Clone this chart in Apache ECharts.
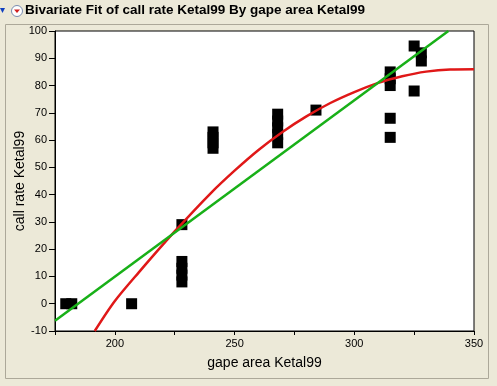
<!DOCTYPE html>
<html><head><meta charset="utf-8">
<script src="https://cdn.jsdelivr.net/npm/echarts@6/dist/echarts.min.js"></script>
<style>html,body{margin:0;padding:0;background:#ECE9D8;}#c{width:497px;height:386px;}</style>
</head><body><div id="c"></div>
<script>
// Scatter points (gape area, call rate)
const pointsX = [179.5, 182, 207, 228, 228, 228, 228, 228, 241, 241, 241, 241, 268, 268, 268, 268, 268, 284, 315, 315, 315, 315, 315, 325, 325, 328, 328];
const pointsY = [0, 0, 0, 29, 8, 10.5, 13, 15.5, 57, 59, 61, 63, 59, 62, 64.5, 67, 69.5, 71, 61, 68, 80, 82.5, 85, 94.5, 78, 92, 89];
// Linear fit (green) endpoints
const linX = [175, 339.3];
const linY = [-6.2, 100];
// Polynomial fit (red)
const polyX = [191.6, 200, 210, 225, 240, 250, 260, 270, 280, 290, 300, 310, 320, 330, 340, 350];
const polyY = [-10, 1, 11.5, 26.5, 40.5, 48.8, 56.4, 63, 68.7, 73.6, 77.6, 81, 83.4, 85.1, 85.9, 86];
const xTicks = [200, 250, 300, 350];
const yTicks = [-10, 0, 10, 20, 30, 40, 50, 60, 70, 80, 90, 100];

const zip = (a, b) => a.map((v, i) => [v, b[i]]);
const chart = echarts.init(document.getElementById('c'), null, {renderer: 'canvas'});
const font = 'Liberation Sans, Arial, sans-serif';
chart.setOption({
  backgroundColor: '#ECE9D8',
  animation: false,
  grid: {left: 55, right: 23, top: 31, bottom: 55, show: true, backgroundColor: '#fff', borderColor: '#000', borderWidth: 1},
  graphic: [
    {type: 'rect', shape: {x: 5.5, y: 24.5, width: 483, height: 354}, style: {fill: 'none', stroke: '#ACA899', lineWidth: 1}, z: -1},
    {type: 'polygon', shape: {points: [[0, 8], [5, 8], [2.5, 13]]}, style: {fill: '#1040C0'}},
    {type: 'circle', shape: {cx: 17, cy: 11, r: 5.5}, style: {fill: '#fff', stroke: '#7A8CB0', lineWidth: 1}},
    {type: 'polygon', shape: {points: [[14, 9.5], [20, 9.5], [17, 13]]}, style: {fill: '#D02020'}},
    {type: 'text', left: 25, top: 3, style: {text: 'Bivariate Fit of call rate Ketal99 By gape area Ketal99', font: 'bold 13.5px ' + font, fill: '#000'}}
  ],
  xAxis: {
    type: 'value', min: 175, max: 350, interval: 25,
    name: 'gape area Ketal99', nameLocation: 'middle', nameGap: 25, nameMoveOverlap: false,
    nameTextStyle: {fontSize: 14, color: '#000', fontFamily: font},
    axisLine: {onZero: false, lineStyle: {color: '#000'}},
    axisTick: {length: 4, lineStyle: {color: '#000'}},
    axisLabel: {fontSize: 11, color: '#000', fontFamily: font, margin: 7,
      formatter: v => xTicks.includes(v) ? String(v) : ''},
    splitLine: {show: false}
  },
  yAxis: {
    type: 'value', min: -10, max: 100, interval: 10,
    name: 'call rate Ketal99', nameLocation: 'middle', nameGap: 28, nameMoveOverlap: false,
    nameTextStyle: {fontSize: 14, color: '#000', fontFamily: font},
    axisLine: {onZero: false, lineStyle: {color: '#000'}},
    axisTick: {length: 6, lineStyle: {color: '#000'}},
    axisLabel: {fontSize: 11, color: '#000', fontFamily: font, margin: 8,
      formatter: v => yTicks.includes(v) ? String(v) : ''},
    splitLine: {show: false}
  },
  series: [
    {type: 'scatter', data: zip(pointsX, pointsY), symbol: 'rect', symbolSize: 11, itemStyle: {color: '#000', opacity: 1}, z: 1},
    {type: 'line', data: zip(polyX, polyY), smooth: 0.3, showSymbol: false, lineStyle: {color: '#E01818', width: 2.5}, clip: true, z: 3},
    {type: 'line', data: zip(linX, linY), showSymbol: false, lineStyle: {color: '#18B018', width: 2.5}, clip: true, z: 4}
  ]
});
</script></body></html>
